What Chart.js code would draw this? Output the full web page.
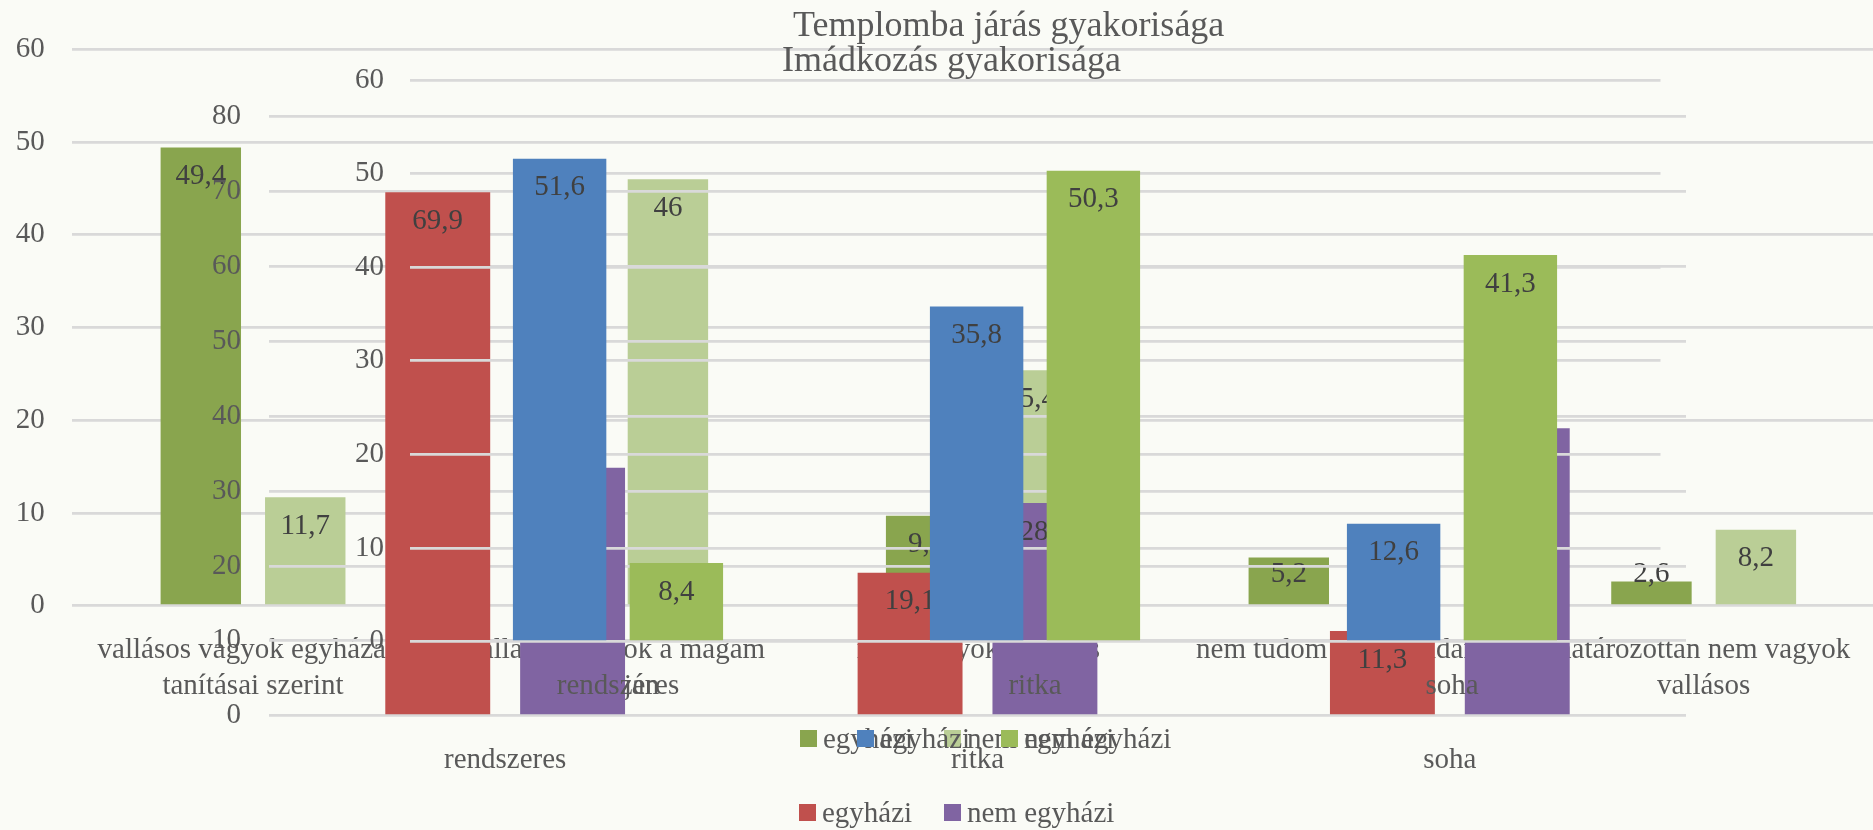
<!DOCTYPE html>
<html>
<head>
<meta charset="utf-8">
<script src="https://cdn.jsdelivr.net/npm/chart.js@4.4.1/dist/chart.umd.min.js"></script>
<style>
    html, body { margin: 0; padding: 0; }
    body { width: 1873px; height: 830px; overflow: hidden; background: #FAFBF6; position: relative;
           font-family: "Liberation Serif", "Times New Roman", serif; color: #595959; }
    canvas { position: absolute; left: 0; top: 0; }
    .title { position: absolute; font-size: 36px; white-space: nowrap; line-height: 1; }
    .leg { position: absolute; display: flex; align-items: center; font-size: 29px; white-space: nowrap; line-height: 1; }
    .leg span.box { display: inline-block; width: 17px; height: 17px; margin-right: 6px; }
</style>
</head>
<body>
<canvas id="chartA" width="1900" height="830"></canvas>
<canvas id="chartB" width="1873" height="830"></canvas>
<canvas id="chartC" width="1873" height="830"></canvas>
<div id="overlay"></div>

<script>
// vallásosság (back chart)
const religCategories = [
    ["vallásos vagyok egyházam", "tanításai szerint"],
    ["vallásos vagyok a magam", "módján"],
    "nem vagyok vallásos",
    "nem tudom megmondani",
    ["határozottan nem vagyok", "vallásos"]
];
const religChurch = [49.4, 33.1, 9.7, 5.2, 2.6];
const religNonChurch = [11.7, 46, 25.4, 8.7, 8.2];

// Imádkozás gyakorisága (middle chart)
const prayerCategories = ["rendszeres", "ritka", "soha"];
const prayerChurch = [69.9, 19.1, 11.3];
const prayerNonChurch = [33.1, 28.4, 38.4];

// Templomba járás gyakorisága (front chart)
const churchCategories = ["rendszeres", "ritka", "soha"];
const churchChurch = [51.6, 35.8, 12.6];
const churchNonChurch = [8.4, 50.3, 41.3];

const seriesNames = ["egyházi", "nem egyházi"];

Chart.defaults.font.family = '"Liberation Serif", "Times New Roman", serif';
Chart.defaults.color = "#595959";

// value labels, "inside end" like the original
const valueLabels = {
    id: "valueLabels",
    afterDatasetsDraw(chart) {
        const ctx = chart.ctx;
        const base = chart.scales.y.getPixelForValue(0);
        ctx.save();
        ctx.font = '29px "Liberation Serif", serif';
        ctx.fillStyle = "#404040";
        ctx.textAlign = "center";
        ctx.textBaseline = "middle";
        chart.data.datasets.forEach((ds, i) => {
            chart.getDatasetMeta(i).data.forEach((bar, j) => {
                const y = Math.min(bar.y + 29, base - 31);
                ctx.fillText(String(ds.data[j]).replace(".", ","), bar.x, y);
            });
        });
        ctx.restore();
    }
};

function makeChart(id, labels, church, nonChurch, colors, cfg) {
    const ctx = document.getElementById(id).getContext("2d");
    return new Chart(ctx, {
        type: "bar",
        data: {
            labels: labels,
            datasets: [
                { label: seriesNames[0], data: church, backgroundColor: colors[0],
                  categoryPercentage: cfg.catPct, barPercentage: cfg.barPct },
                { label: seriesNames[1], data: nonChurch, backgroundColor: colors[1],
                  categoryPercentage: cfg.catPct, barPercentage: cfg.barPct }
            ]
        },
        options: {
            responsive: false,
            animation: false,
            devicePixelRatio: 1,
            layout: { padding: { left: 0, top: cfg.top, right: cfg.right, bottom: 0 } },
            plugins: { legend: { display: false }, title: { display: false }, tooltip: { enabled: false } },
            scales: {
                x: {
                    grid: { display: false },
                    border: { display: false },
                    ticks: { font: { size: 29, lineHeight: "36px" }, color: "#595959", padding: 19,
                             autoSkip: false, maxRotation: 0, minRotation: 0 },
                    afterFit: (s) => { s.height = cfg.xHeight; }
                },
                y: {
                    min: 0, max: cfg.max,
                    grid: { color: "#D9D9D9", lineWidth: 2.8, drawTicks: false },
                    border: { display: false },
                    ticks: { stepSize: 10, font: { size: 29 }, color: "#595959", padding: cfg.tickPad },
                    afterFit: (s) => { s.width = cfg.left; }
                }
            }
        },
        plugins: [valueLabels]
    });
}

makeChart("chartA", religCategories, religChurch, religNonChurch, ["#89A54E", "#BACE96"],
    { catPct: 0.576, barPct: 0.77, top: 49.3, right: 1900 - 1885, left: 71.7, xHeight: 830 - 605.7, max: 60, tickPad: 27 });
makeChart("chartB", prayerCategories, prayerChurch, prayerNonChurch, ["#C0504D", "#8064A2"],
    { catPct: 0.571, barPct: 0.778, top: 116.7, right: 1873 - 1686, left: 269, xHeight: 830 - 715.7, max: 80, tickPad: 28 });
makeChart("chartC", churchCategories, churchChurch, churchNonChurch, ["#4F81BD", "#9BBB59"],
    { catPct: 0.56, barPct: 0.8, top: 80, right: 1873 - 1660.5, left: 409.5, xHeight: 830 - 641.7, max: 60, tickPad: 25.5 });

// titles and legends
const overlay = document.getElementById("overlay");
function addTitle(text, x, y) {
    const d = document.createElement("div");
    d.className = "title";
    d.textContent = text;
    d.style.left = x + "px";
    d.style.top = y + "px";
    overlay.appendChild(d);
}
function addLegendItem(text, color, x, y) {
    const d = document.createElement("div");
    d.className = "leg";
    d.style.left = x + "px";
    d.style.top = y + "px";
    d.innerHTML = '<span class="box" style="background:' + color + '"></span>' + text;
    overlay.appendChild(d);
}
addTitle("Templomba járás gyakorisága", 793, 6);
addTitle("Imádkozás gyakorisága", 782, 41);

addLegendItem(seriesNames[0], "#89A54E", 800, 724);
addLegendItem(seriesNames[1], "#BACE96", 944, 724);
addLegendItem(seriesNames[0], "#4F81BD", 857, 724);
addLegendItem(seriesNames[1], "#9BBB59", 1001, 724);
addLegendItem(seriesNames[0], "#C0504D", 799, 798);
addLegendItem(seriesNames[1], "#8064A2", 944, 798);
</script>
</body>
</html>
